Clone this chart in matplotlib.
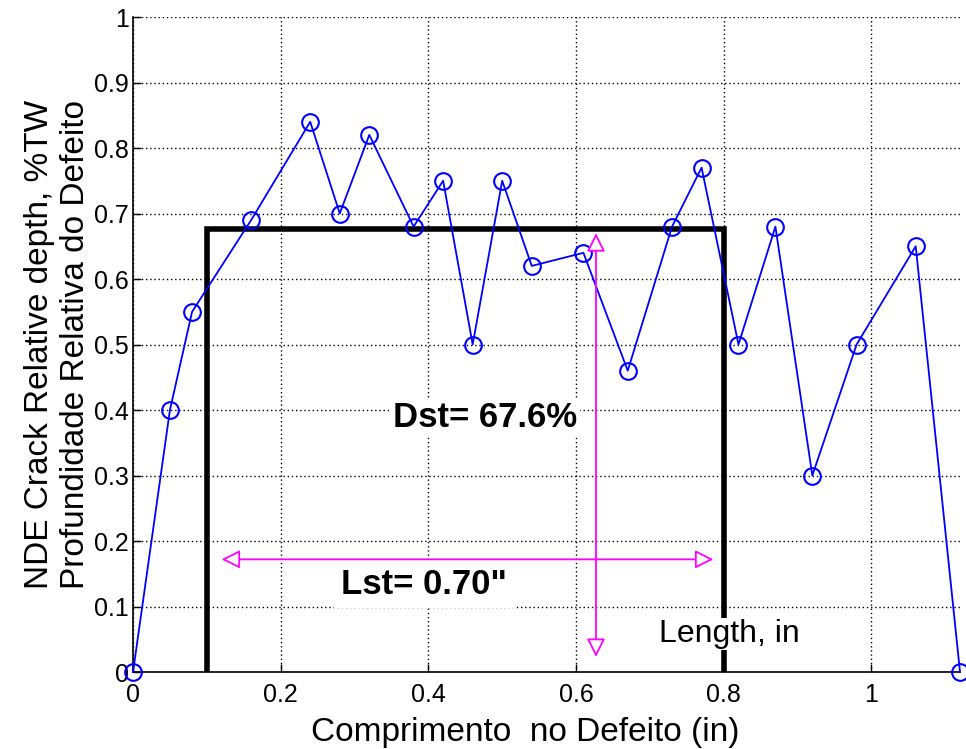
import matplotlib
matplotlib.use("Agg")
import matplotlib.pyplot as plt
import numpy as np

plt.rcParams['font.family'] = ['Liberation Sans', 'DejaVu Sans']

# crack profile
pos_in = [0, 0.05, 0.08, 0.16, 0.24, 0.28, 0.32, 0.38, 0.42, 0.46, 0.50,
          0.54, 0.61, 0.67, 0.73, 0.77, 0.82, 0.87, 0.92, 0.98, 1.06, 1.12]
depth = [0, 0.40, 0.55, 0.69, 0.84, 0.70, 0.82, 0.68, 0.75, 0.50, 0.75,
         0.62, 0.64, 0.46, 0.68, 0.77, 0.50, 0.68, 0.30, 0.50, 0.65, 0]

# structural (rectangular) equivalent
lst_start, lst_end = 0.10, 0.80
dst = 0.676

fig = plt.figure(figsize=(9.66, 7.49), dpi=100)
ax = fig.add_axes([0.1377, 0.1028, 0.8561, 0.8745])

ax.plot(pos_in, depth, color='blue', lw=1.3, marker='o', ms=12,
        mfc='none', mec='blue', mew=1.5, clip_on=False, zorder=3)

# black box
ax.plot([lst_start, lst_start, lst_end, lst_end], [0, dst, dst, 0],
        color='black', lw=4, solid_joinstyle='miter', zorder=2)

# magenta arrows (drawn above the white text boxes)
arrow_kw = dict(arrowstyle='<|-|>', color='magenta', lw=1.3,
                mutation_scale=28, fc='white', shrinkA=0, shrinkB=0)
ax.annotate('', xy=(0.12, 0.172), xytext=(0.786, 0.172),
            arrowprops=arrow_kw, zorder=6)
ax.annotate('', xy=(0.627, 0.023), xytext=(0.627, 0.67),
            arrowprops=arrow_kw, zorder=6)

ax.text(0.477, 0.388, 'Dst= 67.6%', fontsize=25, fontweight='bold',
        ha='center', va='center', zorder=5,
        bbox=dict(fc='white', ec='none', pad=2))
ax.text(0.394, 0.134, 'Lst= 0.70"', fontsize=25, fontweight='bold',
        ha='center', va='center', zorder=5,
        bbox=dict(fc='white', ec='none', pad=5))
ax.text(0.808, 0.058, 'Length, in', fontsize=23, ha='center', va='center',
        zorder=5, bbox=dict(fc='white', ec='none', pad=1))

ax.set_xlim(0, 1.12)
ax.set_ylim(0, 1)
ax.set_xticks(np.arange(0, 1.01, 0.2))
ax.set_xticklabels(['0', '0.2', '0.4', '0.6', '0.8', '1'])
ax.set_yticks(np.arange(0, 1.01, 0.1))
ax.set_yticklabels(['0', '0.1', '0.2', '0.3', '0.4', '0.5', '0.6', '0.7',
                    '0.8', '0.9', '1'])
ax.tick_params(direction='in', labelsize=18, length=6, width=1)
ax.tick_params(axis='x', pad=8)
ax.tick_params(axis='y', pad=3)
ax.grid(True, color='black', ls=(0, (1, 2)), lw=1)
ax.spines['top'].set_visible(False)
ax.spines['right'].set_visible(False)
ax.spines['left'].set_linewidth(1.2)
ax.spines['bottom'].set_linewidth(1.2)

ax.set_xlabel('Comprimento  no Defeito (in)', fontsize=24)
ax.xaxis.set_label_coords(0.474, -0.068)
ax.set_ylabel('NDE Crack Relative depth, %TW\nProfundidade Relativa do Defeito',
              fontsize=24, labelpad=2)

fig.savefig('out.png', dpi=100)
